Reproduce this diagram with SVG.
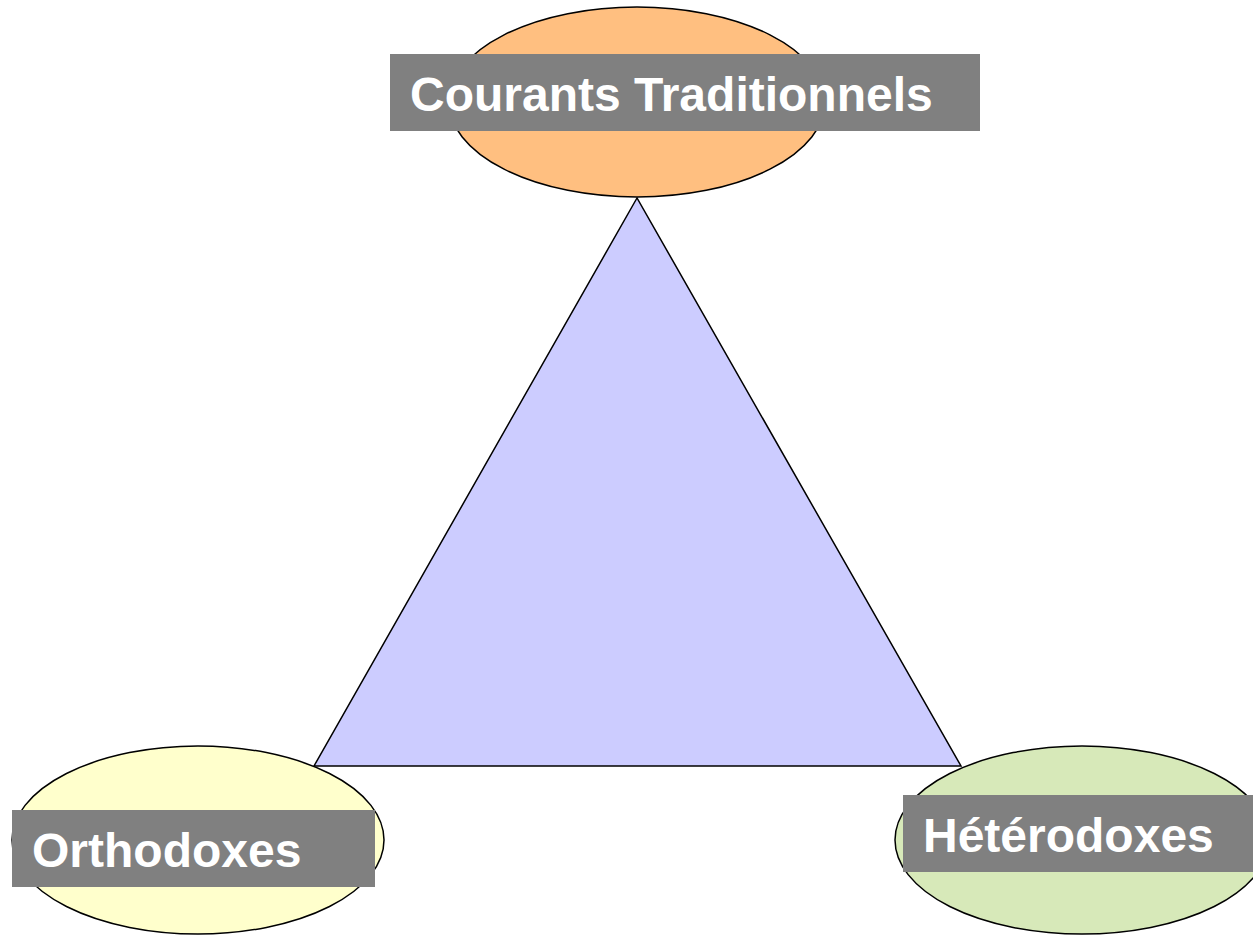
<svg xmlns="http://www.w3.org/2000/svg" width="1253" height="936" viewBox="0 0 1253 936">
<style>
.shape{stroke:#000;stroke-width:1.5}
.lbl{fill:#808080}
.txt{font-family:"Liberation Sans",Arial,sans-serif;font-weight:bold;font-size:48px;fill:#fff}
</style>
<rect width="1253" height="936" fill="#fff"/>
<g id="connectors">
<polygon class="shape" points="637,198 314,766 961,766" fill="#CCCCFF"/>
</g>
<g id="courants">
<ellipse class="shape" cx="637" cy="102" rx="188" ry="95" fill="#FFBF80"/>
<rect class="lbl" x="390" y="54" width="590" height="77"/>
<text class="txt" x="410" y="111">Courants Traditionnels</text>
</g>
<g id="orthodoxes">
<ellipse class="shape" cx="198" cy="840" rx="186" ry="94" fill="#FFFFCC"/>
<rect class="lbl" x="12" y="810" width="363" height="77"/>
<text class="txt" x="32" y="867">Orthodoxes</text>
</g>
<g id="heterodoxes">
<ellipse class="shape" cx="1082" cy="840" rx="187" ry="94" fill="#D7E9B9"/>
<rect class="lbl" x="903" y="795" width="350" height="77"/>
<text class="txt" x="923" y="852">Hétérodoxes</text>
</g>
</svg>
